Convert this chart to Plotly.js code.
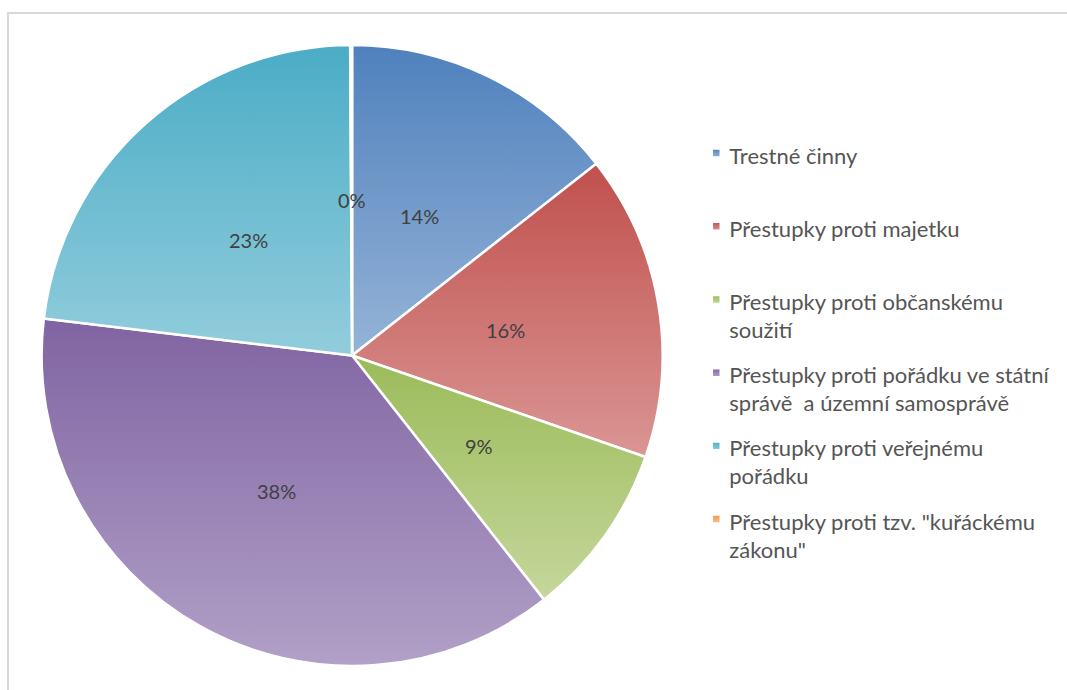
<!DOCTYPE html>
<html>
<head>
<meta charset="utf-8">
<script src="https://cdn.plot.ly/plotly-3.0.1.min.js"></script>
<style>
  html, body { margin: 0; padding: 0; background: #ffffff; }
  #chart { position: absolute; left: 0; top: 0; width: 1067px; height: 690px; }
  #frame { position: absolute; left: 7px; top: 12px; right: 0; bottom: 0;
           border-left: 2px solid #d9d9d9; border-top: 2px solid #d9d9d9;
           pointer-events: none; }
</style>
</head>
<body>
<svg width="0" height="0" style="position:absolute">
  <defs id="gradDefs"></defs>
</svg>
<div id="chart"></div>
<div id="frame"></div>
<script>
// ---- data ----
var categories = [
  "Trestné činny",
  "Přestupky proti majetku",
  "Přestupky proti občanskému soužití",
  "Přestupky proti pořádku ve státní správě  a územní samosprávě",
  "Přestupky proti veřejnému pořádku",
  "Přestupky proti tzv. \"kuřáckému zákonu\""
];
// legend line breaks as in the reference
var legendLines = [
  ["Trestné činny"],
  ["Přestupky proti majetku"],
  ["Přestupky proti občanskému", "soužití"],
  ["Přestupky proti pořádku ve státní", "správě  a územní samosprávě"],
  ["Přestupky proti veřejnému", "pořádku"],
  ["Přestupky proti tzv. \"kuřáckému", "zákonu\""]
];
var shares = [14.4, 15.9, 9.1, 37.5, 23.0, 0.1];
var topColors    = ["#4F81BD", "#C0504D", "#9BBB59", "#8064A2", "#4BACC6", "#F79646"];
var bottomColors = ["#95B3D7", "#DA9694", "#C4D79B", "#B1A0C7", "#92CDDC", "#FABF8F"];

// ---- build legend labels ----
var legendFont = 27;   // controls spacing between entries
var innerFont = 22;    // visible text size
var innerLineGap = 28; // spacing of wrapped lines inside one entry
var labels = legendLines.map(function (lines) {
  var l = lines.slice();
  if (l.length < 2) l.push(" ");
  return l.map(function (t) {
    return '<span style="font-size:' + innerFont + 'px">' + t + '</span>';
  }).join("<br>");
});

// ---- percentage labels (placed at half radius on slice mid-angle) ----
var total = shares.reduce(function (a, b) { return a + b; }, 0);
var cum = 0;
var annotations = shares.map(function (v) {
  var mid = (cum + v / 2) / total * 2 * Math.PI;
  cum += v;
  return {
    xref: "x", yref: "y",
    x: 0.5 * Math.sin(mid), y: 0.5 * Math.cos(mid),
    text: Math.round(v / total * 100) + "%",
    showarrow: false,
    font: { family: "Lato, 'Open Sans', sans-serif", size: 20, color: "#404040" }
  };
});

// ---- gradients ----
var defs = document.getElementById("gradDefs");
var NS = "http://www.w3.org/2000/svg";
topColors.forEach(function (c, i) {
  var g = document.createElementNS(NS, "linearGradient");
  g.setAttribute("id", "grad" + i);
  g.setAttribute("x1", "0"); g.setAttribute("y1", "0");
  g.setAttribute("x2", "0"); g.setAttribute("y2", "1");
  var s1 = document.createElementNS(NS, "stop");
  s1.setAttribute("offset", "0"); s1.setAttribute("stop-color", c);
  var s2 = document.createElementNS(NS, "stop");
  s2.setAttribute("offset", "1"); s2.setAttribute("stop-color", bottomColors[i]);
  g.appendChild(s1); g.appendChild(s2);
  defs.appendChild(g);
});

function hexToRgbStr(h) {
  var n = parseInt(h.slice(1), 16);
  return "rgb(" + ((n >> 16) & 255) + ", " + ((n >> 8) & 255) + ", " + (n & 255) + ")";
}
var colorMap = {};
topColors.forEach(function (c, i) { colorMap[hexToRgbStr(c)] = "url(#grad" + i + ")"; });

function restyleSvg() {
  var gd = document.getElementById("chart");
  gd.querySelectorAll(".pielayer path.surface, .legend path.legendpie").forEach(function (el) {
    var f = el.style.fill;
    if (colorMap[f]) el.style.fill = colorMap[f];
  });
  gd.querySelectorAll(".legend path.legendpie").forEach(function (el) {
    var t = el.getAttribute("transform") || "";
    el.setAttribute("transform", t + " translate(7,0) scale(0.68)");
  });
  gd.querySelectorAll(".legend text.legendtext tspan.line").forEach(function (el) {
    var dy = el.getAttribute("dy");
    if (dy && dy.indexOf("em") > 0) {
      var n = parseFloat(dy) / 1.3;
      el.setAttribute("dy", String(Math.round(n) * innerLineGap));
    }
  });
}

var pieTrace = {
  type: "pie",
  labels: labels,
  values: shares,
  sort: false,
  direction: "clockwise",
  rotation: 0,
  marker: { colors: topColors, line: { color: "#ffffff", width: 2.5 } },
  textinfo: "none",
  hoverinfo: "none",
  domain: { x: [0.03, 0.63], y: [0.0348, 0.9348] }
};
// empty helper trace so that the hidden cartesian axes exist for label placement
var helper = { type: "scatter", x: [], y: [], showlegend: false, hoverinfo: "skip" };

var layout = {
  width: 1067,
  height: 690,
  margin: { l: 0, r: 0, t: 0, b: 0 },
  paper_bgcolor: "rgba(0,0,0,0)",
  plot_bgcolor: "rgba(0,0,0,0)",
  showlegend: true,
  xaxis: { domain: [0.03, 0.63], range: [-320 / 310.5, 320 / 310.5], visible: false, fixedrange: true },
  yaxis: { domain: [0.0348, 0.9348], range: [-1, 1], visible: false, fixedrange: true },
  annotations: annotations,
  legend: {
    x: 0.646, xanchor: "left",
    y: 0.813, yanchor: "top",
    valign: "top",
    font: { family: "Lato, 'Open Sans', sans-serif", size: legendFont, color: "#555555" },
    bgcolor: "rgba(0,0,0,0)",
    borderwidth: 0
  }
};

Plotly.newPlot("chart", [pieTrace, helper], layout, { staticPlot: true, displayModeBar: false })
  .then(restyleSvg);
</script>
</body>
</html>
